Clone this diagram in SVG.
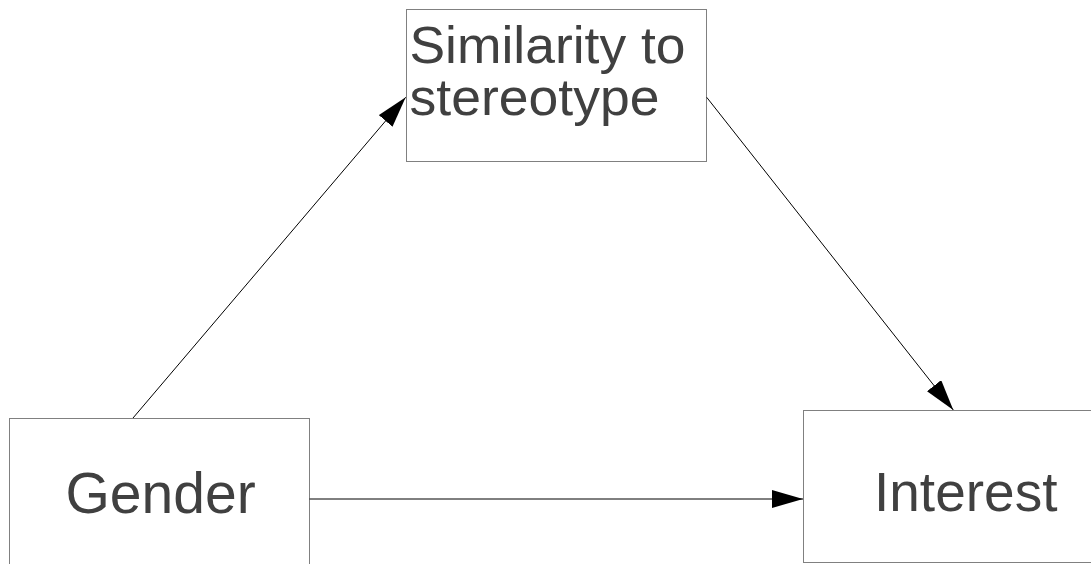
<svg xmlns="http://www.w3.org/2000/svg" width="1091" height="564" viewBox="0 0 1091 564">
<style>
.box{fill:#ffffff;stroke:#808080;stroke-width:1}
.lbl{font-family:"Liberation Sans",Arial,sans-serif;fill:#404040}
.edge{stroke:#000000;stroke-width:1;fill:none}
</style>
<defs>
<marker id="ah" viewBox="0 0 31 18" refX="31" refY="9" markerWidth="31" markerHeight="18" markerUnits="userSpaceOnUse" orient="auto">
<path d="M0,0 L31,9 L0,18 z" fill="#000000"/>
</marker>
</defs>
<rect width="1091" height="564" fill="#ffffff"/>
<g id="node-similarity">
<rect class="box" x="406.5" y="9.5" width="300" height="152"/>
<text class="lbl" font-size="52" x="409.5" y="63" textLength="276" lengthAdjust="spacingAndGlyphs">Similarity to</text>
<text class="lbl" font-size="52" x="409.5" y="115" textLength="250" lengthAdjust="spacingAndGlyphs">stereotype</text>
</g>
<g id="node-gender">
<rect class="box" x="9.5" y="418.5" width="300" height="152"/>
<text class="lbl" font-size="57" x="65.5" y="513">Gender</text>
</g>
<g id="node-interest">
<rect class="box" x="803.5" y="410.5" width="300" height="152"/>
<text class="lbl" font-size="55" x="874" y="511">Interest</text>
</g>
<g id="connectors">
<line class="edge" x1="133" y1="418" x2="405.7" y2="97.3" marker-end="url(#ah)"/>
<line class="edge" x1="706.7" y1="97.3" x2="953.3" y2="410" marker-end="url(#ah)"/>
<line class="edge" x1="309.5" y1="499" x2="803" y2="499" stroke="#555555" marker-end="url(#ah)"/>
</g>
</svg>
